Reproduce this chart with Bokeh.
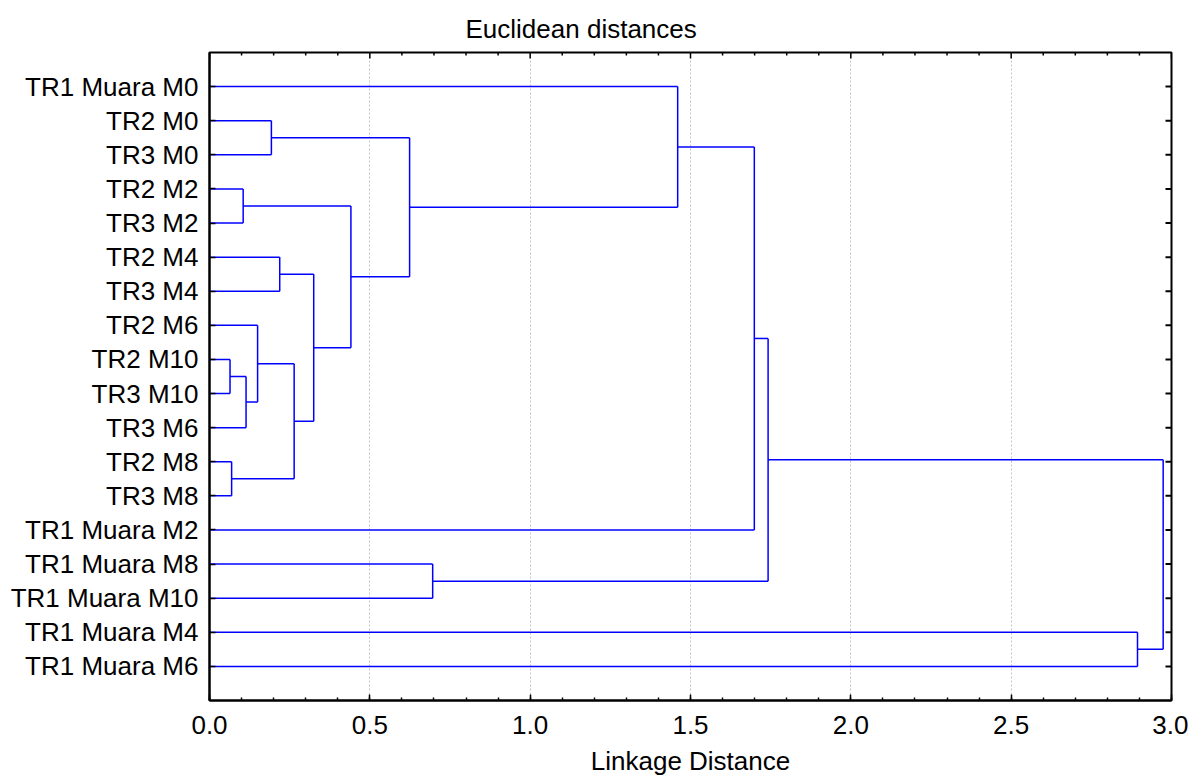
import math
from bokeh.plotting import figure
from bokeh.models import ColumnDataSource, Range1d, FixedTicker, Title
from bokeh.embed import file_html
from bokeh.resources import INLINE

# ---- data ----
leaves = [
    "TR1 Muara M0", "TR2 M0", "TR3 M0", "TR2 M2", "TR3 M2", "TR2 M4",
    "TR3 M4", "TR2 M6", "TR2 M10", "TR3 M10", "TR3 M6", "TR2 M8",
    "TR3 M8", "TR1 Muara M2", "TR1 Muara M8", "TR1 Muara M10",
    "TR1 Muara M4", "TR1 Muara M6",
]
# merges, in order; new cluster i is called "C{i+1}"
merge_left = ["TR2 M10", "TR2 M8", "TR2 M2", "C1", "TR2 M6", "TR2 M0",
              "TR2 M4", "C5", "C7", "C3", "C6", "TR1 Muara M8",
              "TR1 Muara M0", "C13", "C14", "TR1 Muara M4", "C15"]
merge_right = ["TR3 M10", "TR3 M8", "TR3 M2", "TR3 M6", "C4", "TR3 M0",
               "TR3 M4", "C2", "C8", "C9", "C10", "TR1 Muara M10",
               "C11", "TR1 Muara M2", "C12", "TR1 Muara M6", "C16"]
merge_height = [0.064, 0.069, 0.105, 0.114, 0.150, 0.193, 0.219, 0.264,
                0.325, 0.441, 0.624, 0.696, 1.460, 1.699, 1.742, 2.894, 2.974]
x_ticks = [0.0, 0.5, 1.0, 1.5, 2.0, 2.5, 3.0]
x_tick_labels = ["0.0", "0.5", "1.0", "1.5", "2.0", "2.5", "3.0"]
x_minor = [round(i * 0.1, 1) for i in range(31)]
title_text = "Euclidean distances"
x_label_text = "Linkage Distance"

X_MIN, X_MAX = 0.0, 3.0
Y_TOP, Y_BOTTOM = 0, len(leaves) + 1

# ---- dendrogram geometry from the linkage ----
pos = {name: i + 1 for i, name in enumerate(leaves)}
hgt = {name: 0.0 for name in leaves}
x0, x1, y0, y1 = [], [], [], []
for i, (a, b, h) in enumerate(zip(merge_left, merge_right, merge_height)):
    for c in (a, b):
        x0.append(hgt[c]); x1.append(h); y0.append(pos[c]); y1.append(pos[c])
    x0.append(h); x1.append(h); y0.append(pos[a]); y1.append(pos[b])
    name = f"C{i+1}"
    pos[name] = (pos[a] + pos[b]) / 2
    hgt[name] = h

src = ColumnDataSource(dict(x0=x0, x1=x1, y0=y0, y1=y1))

FONT = "Liberation Sans"
FS = "26px"

p = figure(width=1188, height=779, output_backend="svg", toolbar_location=None,
           x_range=Range1d(X_MIN, X_MAX), y_range=Range1d(Y_BOTTOM, Y_TOP),
           min_border_left=209, min_border_right=17, min_border_top=52,
           min_border_bottom=79)
p.background_fill_color = "white"
p.border_fill_color = "white"
p.outline_line_color = "black"
p.outline_line_width = 2

# grid
p.xgrid.ticker = FixedTicker(ticks=x_ticks)
p.xgrid.grid_line_color = "#c4c4c4"
p.xgrid.grid_line_dash = "2 2"
p.xgrid.grid_line_width = 1
p.ygrid.visible = False

p.segment("x0", "y0", "x1", "y1", source=src, line_color="#0000ff", line_width=1.5)

# inward tick marks on the top and right frame edges (screen-sized dashes, clipped by frame)
major_set = set(x_ticks)
top_minor = [t for t in x_minor if t not in major_set]
p.scatter(x=x_ticks, y=[Y_TOP] * len(x_ticks), marker="dash", size=12,
          angle=math.pi / 2, line_color="black", line_width=1.5)
p.scatter(x=top_minor, y=[Y_TOP] * len(top_minor), marker="dash", size=6,
          angle=math.pi / 2, line_color="black", line_width=1.5)
leaf_pos = list(range(1, len(leaves) + 1))
p.scatter(x=[X_MAX] * len(leaf_pos), y=leaf_pos, marker="dash", size=12,
          line_color="black", line_width=2)

# title
p.add_layout(Title(text=title_text, align="left", offset=256,
                   text_font=FONT, text_font_size=FS, text_font_style="normal",
                   text_color="black", standoff=18), "above")

# x axis (bottom)
xa = p.xaxis[0]
xa.ticker = FixedTicker(ticks=x_ticks, minor_ticks=x_minor)
xa.major_label_overrides = {t: l for t, l in zip(x_ticks, x_tick_labels)}
xa.axis_label = x_label_text
xa.axis_label_text_font = FONT
xa.axis_label_text_font_size = FS
xa.axis_label_text_font_style = "normal"
xa.axis_label_standoff = 9
xa.major_label_text_font = FONT
xa.major_label_text_font_size = FS
xa.major_label_standoff = 15

# y axis (left)
ya = p.yaxis[0]
ya.ticker = FixedTicker(ticks=leaf_pos)
ya.major_label_overrides = {i + 1: n for i, n in enumerate(leaves)}
ya.major_label_text_font = FONT
ya.major_label_text_font_size = FS
ya.major_label_standoff = 11

for ax in (xa, ya):
    ax.axis_line_color = "black"
    ax.axis_line_width = 2
    ax.major_tick_in = 6
    ax.major_tick_out = 0
    ax.minor_tick_in = 3
    ax.minor_tick_out = 0
    ax.major_tick_line_color = "black"
    ax.minor_tick_line_color = "black"
    ax.major_tick_line_width = 1.5
    ax.minor_tick_line_width = 1.5
    ax.major_label_text_color = "black"
    ax.axis_label_text_color = "black"

open("out.html", "w").write(file_html(p, INLINE))
